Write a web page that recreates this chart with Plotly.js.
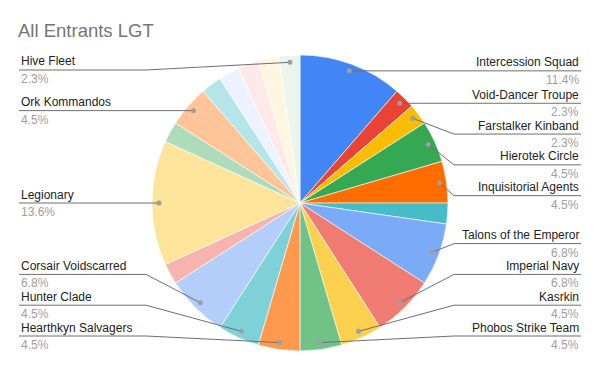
<!DOCTYPE html>
<html>
<head>
<meta charset="utf-8">
<script src="https://cdn.plot.ly/plotly-3.0.1.min.js"></script>
<style>html,body{margin:0;padding:0;background:#fff;}#chart{width:600px;height:371px;}</style>
</head>
<body>
<div id="chart"></div>
<script>
// ---- data ----
const labels = [
  "Intercession Squad", "Void-Dancer Troupe", "Farstalker Kinband", "Hierotek Circle",
  "Inquisitorial Agents", "Other A", "Talons of the Emperor", "Imperial Navy",
  "Kasrkin", "Phobos Strike Team", "Hearthkyn Salvagers", "Hunter Clade",
  "Corsair Voidscarred", "Other B", "Legionary", "Other C", "Ork Kommandos",
  "Other D", "Other E", "Other F", "Other G", "Hive Fleet"
];
const counts = [5, 1, 1, 2, 2, 1, 3, 3, 2, 2, 2, 2, 3, 1, 6, 1, 2, 1, 1, 1, 1, 1];
const showLabel = [1, 1, 1, 1, 1, 0, 1, 1, 1, 1, 1, 1, 1, 0, 1, 0, 1, 0, 0, 0, 0, 1];
const colors = [
  "#4285F4", "#EA4335", "#FBBC04", "#34A853", "#FF6D01", "#46BDC6", "#7BAAF7", "#F07B72",
  "#FCD04F", "#71C287", "#FF994D", "#7ED1D7", "#B3CEFB", "#F7B4AE", "#FDE49B", "#AEDCBA",
  "#FFC599", "#B5E5E8", "#ECF3FE", "#FDE9E8", "#FEF6E1", "#EAF5EC"
];

// ---- geometry ----
const W = 600, H = 371;
const cx = 300, cy = 203, R = 148;
const dotR = R * 0.953;
const px2x = p => p / W;
const px2y = p => 1 - p / H;

const total = counts.reduce((a, b) => a + b, 0);
let cum = 0;
const items = [];
counts.forEach((v, i) => {
  const mid = (cum + v / 2) / total * 2 * Math.PI;
  cum += v;
  if (!showLabel[i]) return;
  const dx = cx + dotR * Math.sin(mid), dy = cy - dotR * Math.cos(mid);
  items.push({i, dx, dy, right: mid < Math.PI, pct: (v / total * 100).toFixed(1) + '%'});
});

const gap = 30.8, yMin = 70, yMax = 336;
function layoutSide(arr) {
  arr.sort((a, b) => a.dy - b.dy);
  arr.forEach(a => a.ly = Math.min(Math.max(a.dy, yMin), yMax));
  for (let k = 1; k < arr.length; k++) arr[k].ly = Math.max(arr[k].ly, arr[k - 1].ly + gap);
  if (arr.length) arr[arr.length - 1].ly = Math.min(arr[arr.length - 1].ly, yMax);
  for (let k = arr.length - 2; k >= 0; k--) arr[k].ly = Math.min(arr[k].ly, arr[k + 1].ly - gap);
}
const rightItems = items.filter(a => a.right), leftItems = items.filter(a => !a.right);
layoutSide(rightItems); layoutSide(leftItems);

const shapes = [], annotations = [];
const xOutR = 581, xBendR = 454, xOutL = 19, xBendL = 146;
items.forEach(a => {
  const xb = a.right ? xBendR : xBendL, xo = a.right ? xOutR : xOutL;
  shapes.push({
    type: 'path', xref: 'paper', yref: 'paper',
    path: `M ${px2x(a.dx)} ${px2y(a.dy)} L ${px2x(xb)} ${px2y(a.ly)} L ${px2x(xo)} ${px2y(a.ly)}`,
    line: {color: '#6f6f6f', width: 1}
  });
  shapes.push({
    type: 'circle', xref: 'paper', yref: 'paper',
    x0: px2x(a.dx - 2.5), x1: px2x(a.dx + 2.5), y0: px2y(a.dy + 2.5), y1: px2y(a.dy - 2.5),
    fillcolor: '#9e9e9e', line: {width: 0}
  });
  annotations.push({
    xref: 'paper', yref: 'paper', x: px2x(xo), y: px2y(a.ly - 8.5),
    xanchor: a.right ? 'right' : 'left', yanchor: 'middle', showarrow: false,
    text: labels[a.i], font: {family: 'Arial, Liberation Sans, sans-serif', size: 12, color: '#222222'}
  });
  annotations.push({
    xref: 'paper', yref: 'paper', x: px2x(xo), y: px2y(a.ly + 9),
    xanchor: a.right ? 'right' : 'left', yanchor: 'middle', showarrow: false,
    text: a.pct, font: {family: 'Arial, Liberation Sans, sans-serif', size: 12, color: '#9e9e9e'}
  });
});

const trace = {
  type: 'pie', labels: labels, values: counts, sort: false, direction: 'clockwise', rotation: 0,
  marker: {colors: colors, line: {color: '#ffffff', width: 0.6}},
  textinfo: 'none', hoverinfo: 'label+percent', showlegend: false,
  domain: {x: [px2x(cx - R), px2x(cx + R)], y: [px2y(cy + R), px2y(cy - R)]}
};

const layout = {
  width: W, height: H, margin: {l: 0, r: 0, t: 0, b: 0},
  paper_bgcolor: '#ffffff', plot_bgcolor: '#ffffff',
  title: {text: 'All Entrants LGT', x: 18 / W, xref: 'paper', xanchor: 'left',
          y: 1 - 30.5 / H, yref: 'paper', yanchor: 'middle',
          font: {family: 'Arial, Liberation Sans, sans-serif', size: 18.5, color: '#757575'}},
  shapes: shapes, annotations: annotations, showlegend: false
};

Plotly.newPlot('chart', [trace], layout, {displayModeBar: false, staticPlot: true});
</script>
</body>
</html>
